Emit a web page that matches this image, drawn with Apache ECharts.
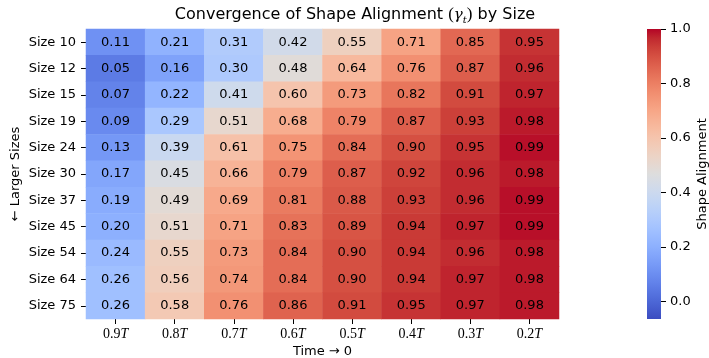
<!DOCTYPE html>
<html>
<head>
<meta charset="utf-8">
<script src="https://cdn.jsdelivr.net/npm/echarts@6/dist/echarts.min.js"></script>
<style>html,body{margin:0;padding:0;background:#fff}#c{width:709px;height:358px}</style>
</head>
<body>
<div id="c"></div>
<script>
const rowLabels = ['Size 10','Size 12','Size 15','Size 19','Size 24','Size 30','Size 37','Size 45','Size 54','Size 64','Size 75'];
const colLabels = ['0.9T','0.8T','0.7T','0.6T','0.5T','0.4T','0.3T','0.2T'];
const size10 = [0.11,0.21,0.31,0.42,0.55,0.71,0.85,0.95];
const size12 = [0.05,0.16,0.30,0.48,0.64,0.76,0.87,0.96];
const size15 = [0.07,0.22,0.41,0.60,0.73,0.82,0.91,0.97];
const size19 = [0.09,0.29,0.51,0.68,0.79,0.87,0.93,0.98];
const size24 = [0.13,0.39,0.61,0.75,0.84,0.90,0.95,0.99];
const size30 = [0.17,0.45,0.66,0.79,0.87,0.92,0.96,0.98];
const size37 = [0.19,0.49,0.69,0.81,0.88,0.93,0.96,0.99];
const size45 = [0.20,0.51,0.71,0.83,0.89,0.94,0.97,0.99];
const size54 = [0.24,0.55,0.73,0.84,0.90,0.94,0.96,0.98];
const size64 = [0.26,0.56,0.74,0.84,0.90,0.94,0.97,0.98];
const size75 = [0.26,0.58,0.76,0.86,0.91,0.95,0.97,0.98];
const rows = [size10,size12,size15,size19,size24,size30,size37,size45,size54,size64,size75];
const cbTicks = [0.0,0.2,0.4,0.6,0.8,1.0];
const vMin = -0.065, vMax = 1.0;

const coolwarm = [
 [59,76,192],[68,90,204],[77,104,215],[87,117,225],[98,130,234],[108,142,241],[119,154,247],[130,165,251],
 [141,176,254],[152,185,255],[163,194,255],[174,201,253],[184,208,249],[194,213,244],[204,217,238],[213,219,230],
 [221,221,221],[229,216,209],[236,211,197],[241,204,185],[245,196,173],[247,187,160],[247,177,148],[247,166,135],
 [244,154,123],[241,141,111],[236,127,99],[229,112,88],[222,96,77],[213,80,66],[203,62,56],[192,40,47],[180,4,38]
].map(c => 'rgb(' + c.join(',') + ')');

const heatData = [];
rows.forEach((r, ri) => r.forEach((v, ci) => heatData.push([ci, ri, v])));

const chart = echarts.init(document.getElementById('c'), null, {renderer: 'canvas'});
const F = 'DejaVu Sans';
chart.setOption({
  animation: false,
  backgroundColor: '#fff',
  textStyle: {fontFamily: F},
  title: {
    left: 350, top: 0, textAlign: 'center',
    text: '{a|Convergence of Shape Alignment }{p|(}{g|γ}{s|t}{p|)}{a| by Size}',
    textStyle: {
      fontWeight: 'normal',
      rich: {
        a: {fontFamily: F, fontSize: 16, fontWeight: 'normal', color: '#000', lineHeight: 20},
        p: {fontFamily: 'Liberation Serif', fontSize: 17, fontWeight: 'normal', color: '#000', lineHeight: 20},
        g: {fontFamily: 'DejaVu Serif', fontStyle: 'italic', fontWeight: 'normal', fontSize: 15, color: '#000', lineHeight: 20},
        s: {fontFamily: 'DejaVu Serif', fontStyle: 'italic', fontWeight: 'normal', fontSize: 10, color: '#000', lineHeight: 20, verticalAlign: 'bottom', padding: [6,0,0,0]}
      }
    }
  },
  grid: [
    {left: 86, top: 29, width: 473, height: 290, containLabel: false, outerBoundsMode: 'none'},
    {left: 647, top: 29, width: 14, height: 290, containLabel: false, outerBoundsMode: 'none'}
  ],
  xAxis: [
    {
      gridIndex: 0, type: 'category', data: colLabels, position: 'bottom',
      axisLine: {show: false},
      axisTick: {show: true, alignWithLabel: true, interval: 0, length: 5, lineStyle: {color: '#000', width: 1}},
      axisLabel: {
        margin: 8, interval: 0,
        formatter: v => '{n|' + v.slice(0, -1) + '}{t|T}',
        rich: {
          n: {fontFamily: 'Liberation Serif', fontSize: 14, color: '#000'},
          t: {fontFamily: 'Liberation Serif', fontStyle: 'italic', fontSize: 14, color: '#000'}
        }
      },
      splitLine: {show: false},
      name: 'Time → 0', nameLocation: 'middle', nameGap: 26, nameMoveOverlap: false,
      nameTextStyle: {fontFamily: F, fontSize: 13, color: '#000'}
    },
    {gridIndex: 1, type: 'category', data: ['cb'], show: false}
  ],
  yAxis: [
    {
      gridIndex: 0, type: 'category', data: rowLabels, inverse: true,
      axisLine: {show: false},
      axisTick: {show: true, alignWithLabel: true, interval: 0, length: 5, lineStyle: {color: '#000', width: 1}},
      axisLabel: {margin: 10, interval: 0, fontFamily: F, fontSize: 13, color: '#000'},
      splitLine: {show: false},
      name: '← Larger Sizes', nameLocation: 'middle', nameGap: 64, nameRotate: 90, nameMoveOverlap: false,
      nameTextStyle: {fontFamily: F, fontSize: 13, color: '#000'}
    },
    {
      gridIndex: 1, type: 'value', position: 'right', min: vMin, max: vMax,
      axisLine: {show: false},
      axisTick: {show: true, length: 5, customValues: cbTicks, lineStyle: {color: '#000', width: 1}},
      axisLabel: {margin: 9, customValues: cbTicks, formatter: v => v.toFixed(1), fontFamily: F, fontSize: 13, color: '#000'},
      splitLine: {show: false},
      name: 'Shape Alignment', nameLocation: 'middle', nameGap: 35, nameRotate: 90, nameMoveOverlap: false,
      nameTextStyle: {fontFamily: F, fontSize: 13, color: '#000'}
    }
  ],
  visualMap: {
    show: false, type: 'continuous', min: vMin, max: vMax, seriesIndex: 0, dimension: 2,
    inRange: {color: coolwarm}
  },
  series: [
    {
      type: 'heatmap', xAxisIndex: 0, yAxisIndex: 0, data: heatData,
      itemStyle: {borderWidth: 0},
      label: {show: true, formatter: p => p.value[2].toFixed(2), fontFamily: F, fontSize: 13, color: '#000'},
      emphasis: {disabled: true}
    },
    {
      type: 'custom', xAxisIndex: 1, yAxisIndex: 1, data: [[0, vMin, vMax]],
      renderItem: (params, api) => {
        const top = api.coord([api.value(0), api.value(2)]);
        const bot = api.coord([api.value(0), api.value(1)]);
        const cs = params.coordSys;
        const stops = coolwarm.map((c, i) => ({offset: 1 - i / (coolwarm.length - 1), color: c})).reverse();
        return {
          type: 'rect',
          shape: {x: cs.x, y: top[1], width: cs.width, height: bot[1] - top[1]},
          style: {fill: new echarts.graphic.LinearGradient(0, 0, 0, 1, stops)}
        };
      }
    }
  ]
});
</script>
</body>
</html>
